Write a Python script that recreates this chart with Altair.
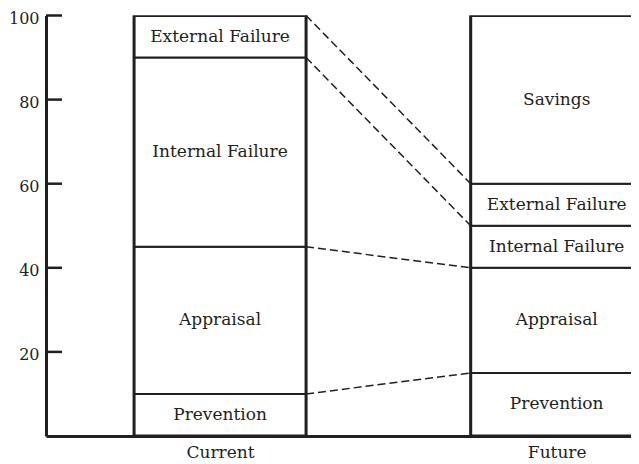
import altair as alt
import pandas as pd

# ---- data ----
categories = ["Current", "Future"]
cat_index = [1, 2]
segments = ["Prevention", "Appraisal", "Internal Failure", "External Failure", "Savings"]
current_values = [10, 35, 45, 10, 0]
future_values = [15, 25, 10, 10, 40]
y_ticks = [20, 40, 60, 80, 100]

INK = "#231f20"
FONT = "DejaVu Serif"

# build stacked rows
rows = []
for cat, idx, vals in [(categories[0], cat_index[0], current_values),
                       (categories[1], cat_index[1], future_values)]:
    start = 0
    for seg, v in zip(segments, vals):
        if v > 0:
            rows.append({"cat": cat, "idx": idx, "segment": seg,
                         "start": start, "end": start + v, "mid": start + v / 2})
        start += v
seg_df = pd.DataFrame(rows)

frame_df = pd.DataFrame({"idx": cat_index, "lo": [0, 0],
                         "hi": [sum(current_values), sum(future_values)]})

# connectors between matching boundaries (all but Savings)
def cum(vals):
    out, s = [], 0
    for v in vals[:4]:
        s += v
        out.append(s)
    return out

conn_df = pd.DataFrame({"x1": [cat_index[0]] * 4, "x2": [cat_index[1]] * 4,
                        "y1": cum(current_values), "y2": cum(future_values)})
tick_df = pd.DataFrame({"v": y_ticks})

x_scale = alt.Scale(domain=[0.49781, 2.20584], nice=False, zero=False)
y_scale = alt.Scale(domain=[0, 100], nice=False)

label_expr = "datum.value == 1 ? '%s' : (datum.value == 2 ? '%s' : '')" % (categories[0], categories[1])

x_axis = alt.Axis(values=cat_index, labelExpr=label_expr, tickSize=0, grid=False,
                  title=None, domainWidth=3, domainColor=INK, labelFont=FONT,
                  labelFontSize=17, labelColor=INK, labelPadding=8)
y_axis = alt.Axis(values=y_ticks, tickSize=0, grid=False, title=None,
                  domainWidth=3, domainColor=INK, labelFont=FONT,
                  labelFontSize=16, labelColor=INK, labelPadding=7,
                  labelOffset=3)

segs = alt.Chart(seg_df).mark_bar(width=172, fill="white", stroke=INK,
                                  strokeWidth=2, clip=True).encode(
    x=alt.X("idx:Q", scale=x_scale, axis=x_axis),
    y=alt.Y("start:Q", scale=y_scale, axis=y_axis),
    y2="end:Q",
)

frames = alt.Chart(frame_df).mark_bar(width=172, fillOpacity=0, stroke=INK,
                                      strokeWidth=3, clip=True).encode(
    x=alt.X("idx:Q", scale=x_scale),
    y=alt.Y("lo:Q", scale=y_scale),
    y2="hi:Q",
)

labels = alt.Chart(seg_df).mark_text(font=FONT, fontSize=17, color=INK,
                                     baseline="middle").encode(
    x=alt.X("idx:Q", scale=x_scale),
    y=alt.Y("mid:Q", scale=y_scale),
    text="segment:N",
)

connectors = alt.Chart(conn_df).mark_rule(color=INK, strokeWidth=1.5,
                                          strokeDash=[8, 4],
                                          xOffset=86, x2Offset=-86).encode(
    x=alt.X("x1:Q", scale=x_scale),
    x2="x2:Q",
    y=alt.Y("y1:Q", scale=y_scale),
    y2="y2:Q",
)

ticks = alt.Chart(tick_df).mark_rule(color=INK, strokeWidth=2.5).encode(
    y=alt.Y("v:Q", scale=y_scale),
    x=alt.value(0),
    x2=alt.value(16),
)

chart = alt.layer(segs, frames, connectors, labels, ticks).properties(
    width=585,
    height=420.5,
    autosize=alt.AutoSizeParams(type="none"),
    padding={"left": 38, "top": 7.5, "right": 0, "bottom": 27},
).configure_view(stroke=None)

chart.save("out.html", embed_options={"renderer": "svg", "actions": False})
